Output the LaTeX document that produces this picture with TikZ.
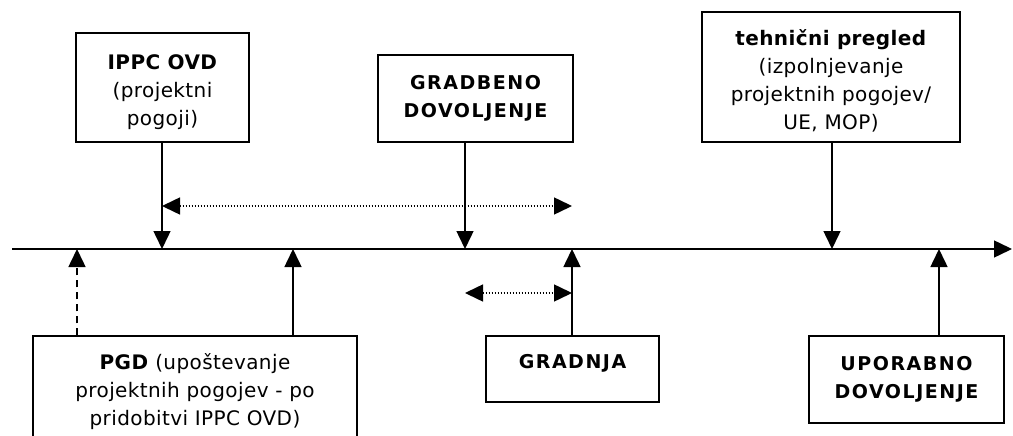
\documentclass[tikz,border=0pt]{standalone}
\usepackage{fontspec}
\setmainfont{DejaVu Sans}[LetterSpace=2]
\usetikzlibrary{arrows.meta}

\newcommand{\topgap}{\rule{0pt}{24pt}}

\tikzset{
  box/.style={draw, line width=1.5pt, align=center, inner sep=0pt,
    font=\fontsize{20}{28}\selectfont},
  capsbox/.style={box, font=\fontsize{19}{28}\selectfont\bfseries\addfontfeatures{LetterSpace=8}},
  pointer/.style={line width=1.5pt, -{Triangle[width=17pt,length=18pt]}},
  span/.style={line width=1.5pt, dash pattern=on 1.5pt off 1.5pt,
    {Triangle[width=17pt,length=18pt]}-{Triangle[width=17pt,length=18pt]}},
}

\begin{document}
\begin{tikzpicture}[x=1pt,y=-1pt]
    \clip (0,0) rectangle (1013,436);
    \fill[white] (0,0) rectangle (1013,436);
    % time line and the points on it
    \coordinate (tA) at (12,249);
    \coordinate (tZ) at (1012,249);
    \coordinate (tPGDa) at (77,249);
    \coordinate (tIPPC) at (162,249);
    \coordinate (tPGDb) at (293,249);
    \coordinate (tGD) at (465,249);
    \coordinate (tGR) at (572,249);
    \coordinate (tTP) at (832,249);
    \coordinate (tUD) at (939,249);
    \draw [pointer] (tA) -- (tZ);
    % boxes above
    \node [box, minimum width=173pt, minimum height=109pt] (ippc) at (162.5,87.5)
      {\topgap\textbf{IPPC OVD}\\(projektni\\pogoji)};
    \node [capsbox, minimum width=195pt, minimum height=87pt] (gradbeno) at (475.5,98.5)
      {GRADBENO\\DOVOLJENJE};
    \node [box, minimum width=258pt, minimum height=130pt] (tehnicni) at (831,77)
      {\topgap\textbf{tehnični pregled}\\(izpolnjevanje\\projektnih pogojev/\\UE, MOP)};
    % boxes below
    \node [box, minimum width=324pt, minimum height=134pt, text depth=28pt] (pgd) at (195,403)
      {\textbf{PGD} (upoštevanje\\projektnih pogojev - po\\pridobitvi IPPC OVD)};
    \node [capsbox, minimum width=173pt, minimum height=66pt, text depth=16pt] (gradnja) at (572.5,369)
      {GRADNJA};
    \node [capsbox, minimum width=195pt, minimum height=87pt] (uporabno) at (906.5,379.5)
      {UPORABNO\\DOVOLJENJE};
    % arrows onto the time line
    \draw [pointer] (ippc.south -| tIPPC) -- (tIPPC);
    \draw [pointer] (gradbeno.south -| tGD) -- (tGD);
    \draw [pointer] (tehnicni.south -| tTP) -- (tTP);
    \draw [pointer, dash pattern=on 7pt off 5pt] (pgd.north -| tPGDa) -- (tPGDa);
    \draw [pointer] (pgd.north -| tPGDb) -- (tPGDb);
    \draw [pointer] (gradnja.north -| tGR) -- (tGR);
    \draw [pointer] (uporabno.north -| tUD) -- (tUD);
    % durations
    \draw [span] ([yshift=43pt]tIPPC) -- ([yshift=43pt]tGR);
    \draw [span] ([yshift=-44pt]tGD) -- ([yshift=-44pt]tGR);
\end{tikzpicture}
\end{document}
